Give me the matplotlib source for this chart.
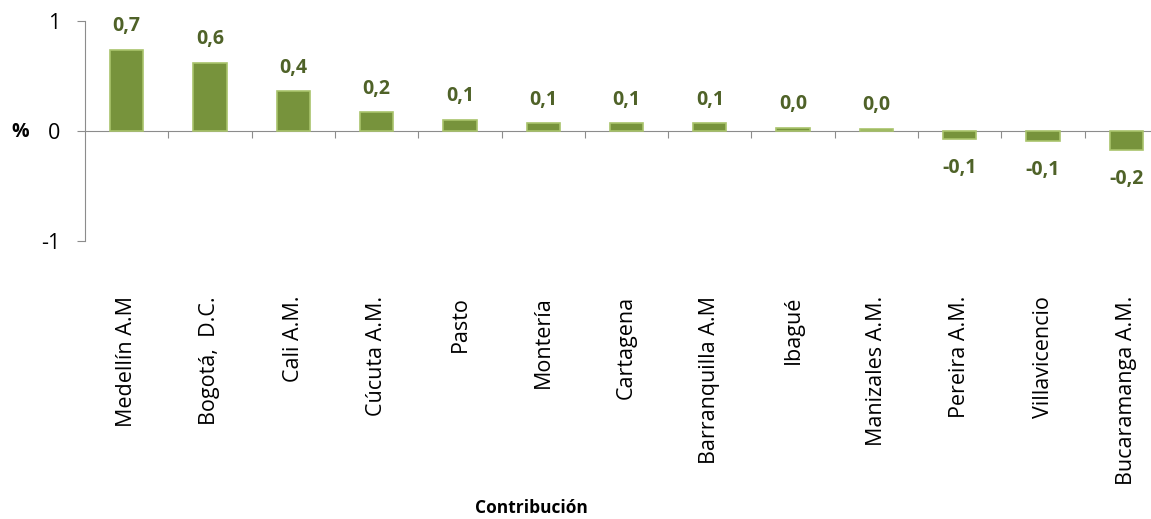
import matplotlib
matplotlib.use("Agg")
import matplotlib.pyplot as plt
import matplotlib.transforms as mtransforms

plt.rcParams['font.family'] = ['Open Sans', 'DejaVu Sans']

# contribución por ciudad (%)
ciudades = ["Medellín A.M", "Bogotá,  D.C.", "Cali A.M.", "Cúcuta A.M.", "Pasto",
            "Montería", "Cartagena", "Barranquilla A.M", "Ibagué", "Manizales A.M.",
            "Pereira A.M.", "Villavicencio", "Bucaramanga A.M."]
contribucion = [0.74, 0.62, 0.36, 0.17, 0.10, 0.07, 0.07, 0.07, 0.03, 0.02,
                -0.07, -0.09, -0.17]

verde = "#77933C"
etiqueta = "#4F6228"
gris = "#8C8C8C"

fig = plt.figure(figsize=(11.51, 5.19), dpi=100)
ax = fig.add_axes([85 / 1151, 1 - 241 / 519, (1168 - 85) / 1151, 220 / 519])

x = list(range(len(ciudades)))
bars = ax.bar(x, contribucion, width=0.4, color=verde, edgecolor="#A9C46C",
              linewidth=1.2, zorder=3)

for xi, v in zip(x, contribucion):
    txt = f"{v:.1f}".replace(".", ",")
    off = 17 if v >= 0 else -21
    ax.annotate(txt, (xi, v), xytext=(0, off), textcoords="offset points",
                ha="center", va="center", fontsize=14, fontweight="bold",
                color=etiqueta)

ax.set_xlim(-0.5, len(ciudades) - 0.5)
ax.set_ylim(-1, 1)
ax.set_yticks([-1, 0, 1])
ax.set_yticklabels(["-1", "0", "1"], fontsize=15.5)
ax.set_xticks([i + 0.5 for i in x[:-1]])
ax.set_xticklabels([])

for s in ["top", "right"]:
    ax.spines[s].set_visible(False)
ax.spines["left"].set_color(gris)
ax.spines["bottom"].set_color(gris)
ax.spines["bottom"].set_position(("data", 0))
ax.tick_params(axis="y", length=6, color=gris, pad=12)
ax.tick_params(axis="x", length=5, color=gris, direction="out")

trans = mtransforms.blended_transform_factory(ax.transData, fig.transFigure)
for xi, nombre in zip(x, ciudades):
    ax.text(xi, 1 - 296 / 519, nombre, rotation=90, ha="center", va="top",
            fontsize=15.5, transform=trans, clip_on=False)

fig.text(20 / 1151, 1 - 132 / 519, "%", ha="center", va="center",
         fontsize=14, fontweight="bold")
fig.text(531 / 1151, 1 - 508 / 519, "Contribución", ha="center", va="center",
         fontsize=12.5, fontweight="bold")

fig.savefig("out.png", dpi=100)
